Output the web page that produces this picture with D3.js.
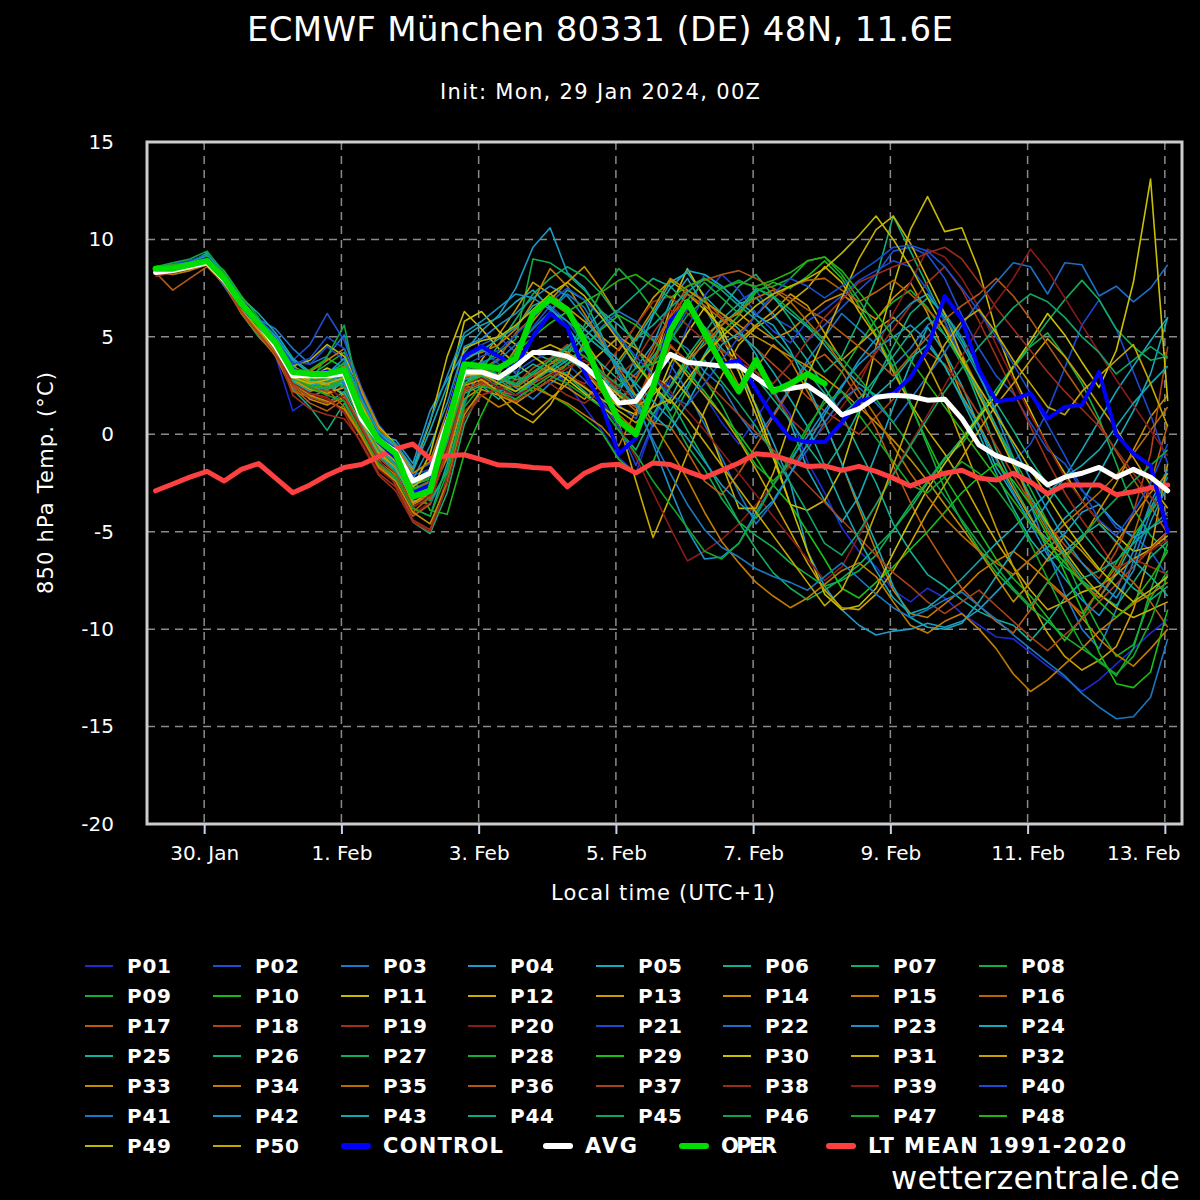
<!DOCTYPE html>
<html>
<head>
<meta charset="utf-8">
<script src="https://cdn.jsdelivr.net/npm/d3@7"></script>
<style>
  html, body { margin: 0; padding: 0; background: #000; }
  svg { display: block; }
  text { font-family: 'DejaVu Sans', sans-serif; fill: #fff; }
</style>
</head>
<body>
<div id="chart"></div>
<script>
// 6-hourly steps, first one 29 Jan 06Z (07 local), 60 steps
const stepCount = 60

const dayLabels = ['30. Jan', '1. Feb', '3. Feb', '5. Feb', '7. Feb', '9. Feb', '11. Feb', '13. Feb']
const yTicks = [15, 10, 5, 0, -5, -10, -15, -20]
const yTickLabels = ['15', '10', '5', '0', '-5', '-10', '-15', '-20']

const ltMean = [
  -2.9, -2.55, -2.2, -1.9, -2.4, -1.8, -1.5, -2.25, -3.0, -2.6,
  -2.1, -1.7, -1.55, -1.15, -0.75, -0.5, -1.25, -1.1, -1.05, -1.3,
  -1.58, -1.6, -1.7, -1.76, -2.7, -2.0, -1.6, -1.54, -1.98, -1.47,
  -1.55, -1.9, -2.22, -1.85, -1.47, -1.0, -1.08, -1.35, -1.65, -1.62,
  -1.85, -1.65, -1.9, -2.25, -2.65, -2.3, -2.0, -1.85, -2.25, -2.35,
  -2.0, -2.45, -3.05, -2.6, -2.6, -2.6, -3.1, -2.95, -2.75, -2.6]

const oper = [
  8.5, 8.5, 8.7, 8.9, 8.0, 6.7, 5.7, 4.7, 3.2, 3.1,
  3.1, 3.3, 1.1, -0.3, -1.0, -3.2, -2.9, 0.4, 3.6, 3.5,
  3.4, 3.9, 6.2, 6.95, 6.4, 4.8, 2.5, 0.7, 0.0, 2.4,
  5.3, 6.8, 5.2, 3.6, 2.2, 3.8, 2.2, 2.6, 3.1, 2.6]

const control = [
  8.4, 8.5, 8.7, 9.0, 8.0, 6.6, 5.6, 4.6, 3.3, 3.1,
  3.2, 3.1, 1.0, -0.4, -1.2, -3.0, -2.6, 0.8, 4.0, 4.5,
  4.0, 3.5, 5.0, 6.2, 5.5, 3.2, 1.5, -1.0, -0.2, 2.3,
  5.8, 6.7, 5.2, 3.6, 3.8, 2.3, 0.9, -0.2, -0.4, -0.4,
  0.6, 1.7, 1.9, 2.1, 2.9, 4.4, 7.1, 5.9, 3.3, 1.7,
  1.8, 2.1, 0.8, 1.4, 1.5, 3.2, 0.0, -1.0, -1.6, -5.0]

const avg = [
  8.3, 8.4, 8.6, 8.8, 7.9, 6.7, 5.7, 4.5, 3.0, 3.0,
  3.0, 3.1, 0.8, -0.3, -0.9, -2.4, -2.0, 0.6, 3.2, 3.2,
  2.9, 3.5, 4.2, 4.2, 4.0, 3.5, 2.7, 1.6, 1.7, 2.9,
  4.1, 3.7, 3.6, 3.5, 3.5, 2.9, 2.3, 2.35, 2.5, 1.9,
  1.0, 1.3, 1.9, 2.0, 1.95, 1.75, 1.8, 0.8, -0.55, -1.1,
  -1.4, -1.8, -2.6, -2.2, -2.0, -1.7, -2.2, -1.8, -2.2, -2.9]

// ensemble members P01..P50
const P01 = [8.3, 8.6, 8.8, 9.0, 8.1, 6.8, 5.4, 4.0, 1.2, 1.8, 2.5, 3.1, 1.4, -0.6, -1.4, -3.0, -2.8, -0.5, 2.6, 3.4, 2.4, 1.8, 2.6, 3.4, 2.6, 1.4, 0.2, -1.2, -2.0, 0.5,
  2.8, 3.5, 2.0, 0.6, -0.5, 0.8, 2.2, 1.0, -1.4, -3.0, -4.8, -6.0, -6.8, -8.0, -8.6, -7.9, -8.4, -9.2, -9.8, -10.4, -10.5, -11.2, -11.9, -12.5, -13.2, -12.6, -11.8, -11.0, -10.2, -9.5]
const P02 = [8.5, 8.7, 8.6, 9.1, 8.0, 6.5, 5.8, 4.9, 3.8, 4.6, 6.2, 4.8, 2.4, 0.5, -0.6, -2.0, -1.5, 1.0, 4.0, 4.6, 5.0, 4.2, 5.5, 6.6, 5.8, 4.6, 3.1, 1.5, 0.8, 2.6,
  4.8, 6.4, 8.2, 7.6, 6.8, 7.4, 6.0, 5.5, 4.8, 5.6, 6.5, 7.4, 8.2, 9.4, 9.6, 9.2, 8.0, 6.1, 4.4, 3.0, 2.1, 0.6, -0.8, -1.5, -2.9, -3.6, -4.8, -5.2, -6.0, -7.3]
const P03 = [8.6, 8.4, 8.7, 8.8, 7.6, 6.3, 5.9, 5.4, 4.4, 3.6, 4.0, 5.1, 1.8, -0.2, -1.0, -3.4, -3.6, -1.8, 1.5, 3.8, 3.0, 2.4, 1.8, 2.6, 3.2, 2.4, 1.6, 2.4, 3.1, 4.0,
  5.0, 4.4, 3.2, 2.5, 1.0, -0.2, 1.0, 2.4, 3.8, 5.0, 6.2, 5.4, 4.6, 3.5, 4.4, 5.6, 6.2, 5.0, 3.2, 1.0, -1.2, -3.6, -6.0, -8.2, -10.0, -11.0, -9.0, -6.5, -4.0, -2.2]
const P04 = [8.4, 8.5, 8.9, 9.2, 8.3, 6.9, 5.8, 4.9, 3.5, 2.9, 3.2, 3.6, 1.2, -0.1, -0.3, -1.5, 1.2, 2.8, 4.2, 5.3, 6.1, 7.5, 9.6, 10.6, 8.3, 7.5, 6.2, 5.0, 3.4, 4.6,
  6.8, 8.0, 6.5, 5.0, 3.2, 1.5, -0.4, -2.5, -6.0, -7.8, -9.0, -9.8, -10.3, -10.1, -10.0, -9.7, -9.9, -9.6, -9.0, -8.1, -7.2, -6.4, -5.8, -5.1, -4.0, -3.6, -4.6, -5.3, -4.8, -4.3]
const P05 = [8.2, 8.4, 8.6, 8.8, 8.2, 7.0, 6.2, 5.2, 3.9, 3.2, 2.4, 2.7, 0.8, -0.8, -1.3, -2.4, -1.8, 0.9, 3.5, 2.8, 2.2, 2.6, 3.0, 3.6, 4.2, 5.4, 6.3, 5.6, 4.8, 6.2,
  7.8, 8.3, 7.1, 6.2, 5.4, 4.1, 2.3, 0.6, -1.8, -3.4, -4.5, -3.2, -1.0, 1.4, 3.6, 5.5, 4.2, 2.5, 0.4, -1.7, -3.1, -4.5, -5.4, -4.3, -3.5, -2.0, -0.4, 1.2, 3.1, 6.0]
const P06 = [8.5, 8.6, 8.8, 9.3, 8.0, 6.4, 5.3, 4.3, 2.6, 2.0, 1.6, 2.2, 0.4, -1.2, -1.9, -3.8, -4.2, -1.5, 2.1, 2.5, 1.8, 2.9, 5.1, 6.3, 7.4, 6.9, 5.1, 3.0, 1.6, 0.4,
  1.8, 3.5, 4.8, 5.9, 6.7, 7.0, 6.2, 5.0, 3.8, 2.4, 1.0, -0.8, -2.5, -4.6, -6.0, -7.2, -7.8, -8.5, -9.1, -9.5, -9.8, -10.6, -9.6, -8.4, -7.6, -8.4, -7.2, -5.5, -3.8, -2.0]
const P07 = [8.6, 8.5, 8.7, 9.0, 7.8, 6.6, 5.5, 4.3, 2.3, 1.4, 0.2, 1.6, 0.1, -1.5, -2.3, -4.5, -5.1, -3.0, 0.5, 2.4, 2.6, 3.4, 4.2, 3.8, 3.0, 2.2, 1.4, 0.2, -0.8, 1.0,
  2.5, 4.0, 5.2, 6.5, 7.6, 8.2, 7.1, 5.9, 4.5, 3.2, 4.0, 5.8, 8.0, 11.2, 9.4, 7.6, 5.8, 3.8, 1.6, -0.8, -2.6, -4.2, -5.9, -6.8, -7.5, -8.2, -8.8, -7.6, -6.3, -5.5]
const P08 = [8.4, 8.3, 8.5, 8.7, 7.9, 6.2, 5.0, 4.1, 2.8, 2.3, 2.5, 2.9, 1.0, -0.5, -1.6, -3.1, -2.9, -0.8, 2.2, 3.6, 4.2, 4.9, 9.0, 8.8, 8.2, 7.4, 6.3, 5.1, 3.8, 2.5,
  1.0, -0.6, -1.8, -3.3, -4.5, -5.2, -5.8, -6.6, -7.2, -7.8, -7.5, -7.0, -6.2, -4.9, -3.6, -2.4, -1.2, -0.5, 0.8, 2.1, 3.4, 4.5, 5.2, 4.0, 2.6, 0.8, -1.5, -3.8, -5.2, -6.0]
const P09 = [8.3, 8.6, 8.6, 8.9, 8.1, 6.7, 5.7, 4.8, 3.4, 3.0, 3.6, 4.2, 2.1, 0.2, -0.9, -2.6, -2.3, 0.0, 2.8, 3.1, 2.6, 2.0, 2.8, 3.6, 4.4, 5.6, 7.4, 8.5, 7.6, 6.4,
  5.3, 4.1, 2.8, 1.5, -0.2, -1.6, -2.4, -1.5, 0.2, 1.8, 3.2, 4.6, 5.9, 6.8, 7.4, 6.5, 5.1, 3.6, 2.0, 0.4, -1.2, -2.8, -4.5, -6.4, -8.3, -10.0, -11.4, -10.8, -8.4, -7.0]
const P10 = [8.5, 8.4, 8.8, 9.1, 8.4, 7.1, 6.0, 4.6, 3.2, 3.3, 3.9, 3.4, 1.6, -0.1, -0.8, -2.2, -3.9, -4.1, -1.0, 1.0, 2.8, 3.0, 2.6, 2.0, 1.5, 0.8, 0.1, -1.3, -2.0, -1.4,
  0.6, 2.3, 4.0, 5.2, 6.1, 7.3, 7.8, 7.5, 8.1, 8.9, 8.0, 6.6, 5.1, 3.4, 1.5, -0.4, -2.2, -3.6, -5.0, -6.4, -7.4, -8.3, -9.4, -10.6, -9.4, -8.0, -6.6, -5.2, -4.0, -2.8]
const P11 = [8.4, 8.3, 8.5, 8.8, 7.9, 6.6, 5.6, 4.7, 3.5, 3.8, 4.6, 4.0, 2.2, 0.4, -0.5, -1.8, 0.6, 4.0, 6.3, 5.4, 4.4, 3.6, 3.0, 3.4, 4.0, 3.2, 2.2, 1.4, 1.0, 3.5,
  6.5, 8.5, 7.0, 5.1, 3.2, 1.0, -1.2, -3.6, -3.9, -3.4, -1.8, 1.0, 4.5, 7.6, 10.5, 12.2, 10.4, 10.6, 8.4, 5.3, 3.0, 1.2, -0.6, -2.0, -3.4, -4.5, -5.2, -6.0, -5.8, -5.0]
const P12 = [8.3, 8.5, 8.6, 9.0, 8.1, 6.5, 5.4, 4.4, 2.9, 2.4, 2.6, 2.0, 0.6, -1.0, -1.7, -3.5, -3.0, -0.6, 3.0, 2.9, 2.0, 1.1, 0.6, 1.5, 3.0, 4.8, 3.5, 0.6, -2.4, -5.3,
  -3.2, -1.0, 1.2, 3.0, 4.6, 5.5, 6.0, 6.8, 7.5, 8.6, 7.8, 6.3, 5.0, 3.2, 1.6, 0.2, -1.0, -2.4, -4.0, -5.5, -6.8, -8.0, -9.0, -8.6, -8.1, -7.8, -7.2, -6.4, -5.9, -5.2]
const P13 = [8.2, 8.4, 8.7, 8.9, 7.7, 6.4, 5.7, 4.9, 3.6, 2.6, 2.0, 2.8, 1.2, -0.3, -1.2, -2.9, -3.3, -1.0, 2.4, 3.8, 5.1, 6.4, 7.8, 7.2, 6.5, 5.8, 5.0, 4.3, 5.6, 7.0,
  7.9, 7.2, 6.4, 5.5, 4.8, 5.6, 6.3, 7.2, 6.6, 5.2, 3.8, 4.6, 5.4, 6.0, 5.2, 3.6, 1.8, -0.4, -2.6, -4.8, -6.8, -8.6, -10.2, -11.4, -12.1, -11.6, -10.9, -9.0, -6.0, -1.5]
const P14 = [8.5, 8.7, 8.9, 9.1, 8.2, 6.8, 5.5, 4.2, 2.5, 1.8, 1.5, 1.9, 0.2, -1.4, -2.1, -3.6, -3.1, -1.2, 1.8, 2.4, 3.1, 4.4, 5.8, 6.9, 7.8, 8.6, 7.4, 6.0, 4.5, 3.0,
  2.4, 3.8, 5.0, 5.8, 6.2, 5.5, 4.9, 5.3, 6.1, 6.8, 7.2, 6.5, 5.9, 7.0, 7.8, 6.2, 4.1, 2.0, 0.5, -1.2, -2.8, -4.3, -5.6, -6.2, -5.4, -3.9, -2.5, -0.8, 0.9, 2.0]
const P15 = [8.3, 8.2, 8.4, 8.7, 7.8, 6.3, 5.2, 4.5, 3.3, 2.7, 3.0, 2.4, 0.9, -0.9, -1.5, -3.3, -2.6, -0.2, 2.6, 2.0, 1.4, 1.8, 2.4, 2.0, 1.6, 1.0, 0.4, -0.6, 1.2, 3.6,
  5.8, 6.5, 5.4, 4.2, 2.5, 3.4, 4.6, 3.8, 2.2, 0.6, -1.5, -3.8, -6.0, -8.0, -9.2, -9.4, -8.7, -8.0, -7.1, -6.5, -6.0, -6.7, -7.5, -8.3, -9.4, -10.5, -11.3, -11.9, -11.0, -10.0]
const P16 = [8.4, 8.6, 8.5, 8.8, 8.0, 6.6, 5.3, 4.0, 2.2, 1.9, 2.3, 1.4, 0.0, -1.6, -2.4, -4.0, -3.2, -0.4, 2.9, 3.3, 3.9, 5.2, 6.0, 6.8, 6.2, 5.4, 4.6, 3.5, 2.9, 4.2,
  6.0, 7.2, 6.6, 5.9, 5.2, 6.1, 7.0, 7.6, 7.9, 8.0, 7.4, 6.8, 7.3, 7.9, 7.2, 6.4, 5.5, 4.1, 2.3, 0.4, -1.5, -3.4, -5.0, -6.3, -7.6, -8.4, -7.0, -5.2, -2.5, 0.5]
const P17 = [8.3, 7.4, 8.0, 8.6, 7.7, 6.2, 5.1, 4.0, 2.4, 1.6, 1.2, 1.8, 0.3, -1.3, -2.6, -4.2, -3.6, -0.7, 2.2, 2.6, 2.2, 2.0, 2.6, 3.1, 3.6, 4.0, 3.2, 2.0, 1.2, 0.6,
  0.4, -0.9, -2.4, -3.1, -2.0, -0.6, 0.9, 2.3, 3.6, 4.1, 3.2, 1.8, 0.3, -1.6, -3.5, -5.2, -6.6, -7.9, -8.8, -9.6, -10.2, -9.0, -7.6, -8.4, -9.2, -8.0, -6.8, -7.6, -8.6, -9.9]
const P18 = [8.6, 8.6, 8.9, 9.0, 8.2, 6.9, 5.8, 4.6, 3.1, 2.4, 2.0, 2.5, 0.8, -0.8, -1.4, -2.9, -2.5, 0.3, 3.1, 3.4, 2.8, 2.6, 3.4, 3.9, 4.6, 4.0, 3.2, 2.1, 1.6, 3.6,
  5.6, 7.4, 6.9, 6.0, 5.1, 4.4, 3.6, 2.8, 1.9, 1.2, 0.6, 0.0, 0.9, 1.8, 3.0, 4.2, 3.6, 2.4, 1.0, -0.6, -2.1, -3.5, -4.6, -5.7, -6.6, -7.4, -6.0, -4.0, -1.0, 4.5]
const P19 = [8.1, 8.3, 8.6, 8.8, 7.8, 6.5, 5.6, 4.4, 2.0, 1.3, 1.0, 0.8, -0.4, -2.0, -2.7, -4.4, -4.9, -2.2, 1.2, 2.0, 2.4, 2.8, 3.0, 3.4, 3.0, 2.6, 3.2, 4.4, 5.6, 6.8,
  7.1, 6.2, 5.5, 4.8, 4.0, 3.2, 2.1, 0.8, 0.0, 0.6, 1.8, 3.0, 4.2, 5.4, 6.6, 7.8, 8.6, 7.4, 5.8, 4.0, 2.2, 0.4, -1.4, -3.0, -4.4, -5.6, -6.9, -6.4, -6.8, -7.2]
const P20 = [8.4, 8.5, 8.7, 9.0, 7.9, 6.4, 5.3, 4.2, 2.7, 2.1, 1.8, 1.2, -0.2, -1.8, -2.5, -4.1, -3.5, -0.9, 2.4, 3.0, 2.6, 2.2, 2.8, 3.4, 3.0, 2.5, 1.6, 0.4, -1.2, -3.0,
  -4.8, -6.5, -6.0, -5.4, -4.6, -3.6, -2.6, -1.6, -0.6, 0.4, 1.4, 2.6, 4.4, 6.2, 7.8, 9.5, 9.1, 8.0, 6.5, 4.6, 2.8, 1.0, -0.6, -2.2, -3.4, -4.5, -5.6, -6.5, -6.0, -5.4]
const P21 = [8.5, 8.8, 8.9, 9.2, 8.3, 6.9, 5.9, 5.1, 3.7, 3.6, 4.5, 3.8, 1.9, 0.1, -0.7, -2.1, -1.8, 0.8, 3.8, 4.4, 3.6, 3.2, 3.8, 4.2, 3.6, 2.8, 1.8, 0.4, -1.6, 0.6,
  3.2, 5.5, 7.1, 8.2, 7.4, 6.2, 5.3, 4.7, 5.8, 6.4, 7.1, 7.9, 8.4, 8.9, 8.6, 7.4, 5.8, 3.9, 2.0, 0.3, -1.4, -0.5, 1.2, 3.4, 5.6, 6.9, 5.4, 3.2, 1.0, -1.5]
const P22 = [8.3, 8.5, 8.6, 8.9, 7.9, 6.5, 5.6, 4.6, 3.2, 2.9, 3.3, 2.8, 1.0, -0.6, -1.3, -2.8, -2.4, 0.2, 3.0, 3.7, 4.0, 3.1, 2.2, 2.8, 3.6, 4.4, 5.5, 6.3, 5.8, 4.9,
  3.6, 2.2, 0.5, -1.2, -3.0, -4.6, -3.5, -2.0, -0.8, 0.6, 1.8, 2.4, 1.6, 0.6, 1.8, 3.0, 4.2, 5.6, 6.8, 7.8, 8.8, 8.6, 7.2, 8.8, 8.7, 7.1, 7.6, 6.8, 7.5, 8.7]
const P23 = [8.4, 8.6, 8.8, 9.1, 8.0, 6.7, 5.6, 4.5, 3.0, 2.6, 2.8, 3.3, 1.5, -0.2, -0.8, -2.3, -0.6, 1.6, 4.5, 4.9, 5.6, 6.2, 7.0, 7.6, 7.1, 6.0, 4.7, 3.2, 1.8, -0.5,
  -2.8, -4.9, -6.4, -6.3, -5.6, -4.0, -2.6, -1.3, -0.1, 1.2, 2.5, 3.6, 4.4, 5.0, 5.6, 4.8, 3.5, 1.9, 0.4, -1.3, -3.0, -4.6, -6.2, -7.4, -8.5, -9.3, -8.0, -6.0, -3.5, -1.8]
const P24 = [8.5, 8.4, 8.6, 8.9, 8.1, 6.8, 5.9, 5.0, 3.8, 3.1, 2.9, 3.5, 1.7, 0.0, -0.6, -1.9, 0.2, 2.5, 5.0, 5.6, 6.0, 6.8, 7.4, 6.5, 5.5, 4.3, 3.0, 2.1, 4.0, 6.1,
  7.5, 8.4, 8.2, 7.6, 6.8, 6.1, 5.6, 4.3, 2.5, 0.6, -1.5, -3.6, -5.6, -7.8, -9.4, -9.9, -10.0, -9.7, -8.6, -7.3, -6.0, -4.8, -3.5, -2.2, -0.8, 0.7, 2.2, 3.5, 4.8, 6.0]
const P25 = [8.6, 8.7, 8.8, 9.0, 8.0, 6.6, 5.4, 4.3, 2.7, 2.2, 2.5, 2.1, 0.5, -1.1, -1.8, -3.3, -2.9, -0.4, 2.6, 3.2, 2.6, 3.0, 3.6, 3.2, 3.8, 4.4, 3.6, 2.8, 2.0, 2.6,
  1.2, 2.5, 4.1, 5.6, 6.4, 7.5, 7.0, 6.2, 5.5, 4.6, 3.5, 2.6, 2.0, 2.8, 3.9, 4.6, 3.5, 1.8, 0.0, -2.0, -3.8, -5.4, -6.5, -6.0, -5.2, -4.6, -5.5, -6.5, -7.3, -8.3]
const P26 = [8.4, 8.5, 8.6, 8.9, 8.0, 6.7, 5.8, 4.7, 3.3, 2.8, 2.3, 2.6, 1.3, -0.4, -1.0, -2.7, -2.0, 0.6, 3.4, 3.0, 2.4, 2.0, 2.7, 3.3, 4.1, 5.0, 5.8, 6.4, 7.2, 8.0,
  7.6, 6.7, 5.5, 4.4, 3.6, 2.9, 1.8, 0.7, -0.6, -1.8, -0.5, 1.2, 2.8, 4.5, 6.2, 7.0, 6.2, 4.8, 3.2, 1.6, 0.2, -1.3, -2.6, -3.8, -5.0, -6.1, -7.0, -7.9, -8.5, -7.8]
const P27 = [8.3, 8.5, 8.7, 9.0, 8.1, 6.5, 5.6, 4.8, 3.5, 3.0, 2.6, 3.0, 1.1, -0.5, -1.4, -3.0, -3.4, -1.9, 1.7, 3.3, 4.6, 5.9, 7.2, 8.0, 8.6, 8.1, 7.2, 6.0, 4.5, 3.0,
  1.8, 0.2, -1.3, -2.9, -4.5, -5.9, -7.1, -7.9, -8.5, -8.0, -7.4, -6.7, -5.8, -4.9, -3.8, -2.5, -1.3, -0.2, 1.0, 2.3, 3.5, 4.6, 5.8, 6.9, 7.9, 6.9, 5.4, 4.5, 3.8, 4.0]
const P28 = [8.5, 8.6, 8.8, 9.1, 8.2, 6.8, 5.7, 4.6, 3.1, 2.7, 2.9, 3.7, 1.8, 0.0, -0.9, -2.5, -2.1, 0.4, 3.3, 3.6, 3.2, 2.8, 3.0, 3.6, 4.0, 3.4, 2.6, 1.8, 2.6, 3.9,
  5.5, 6.9, 7.8, 7.0, 6.2, 7.4, 7.6, 8.0, 8.9, 9.1, 8.2, 6.9, 5.5, 3.8, 1.6, -0.6, -2.8, -4.5, -5.9, -7.1, -8.0, -8.9, -9.6, -10.4, -11.0, -11.6, -12.4, -11.0, -8.0, -5.6]
const P29 = [8.4, 8.3, 8.5, 8.8, 7.9, 6.6, 5.5, 4.4, 2.9, 2.5, 2.8, 3.4, 1.4, -0.3, -1.1, -2.8, -2.5, 0.1, 3.1, 3.4, 3.0, 2.5, 2.2, 2.8, 3.6, 4.5, 5.4, 6.1, 5.6, 4.8,
  4.0, 3.2, 2.2, 1.0, 0.0, -1.2, -2.6, -3.6, -5.0, -6.4, -7.9, -8.4, -7.6, -6.8, -5.9, -5.0, -4.0, -3.0, -2.2, -1.5, -2.4, -3.6, -5.2, -7.1, -9.0, -11.2, -12.8, -13.0, -12.2, -9.0]
const P30 = [8.3, 8.4, 8.5, 8.8, 7.9, 6.6, 5.6, 4.5, 3.0, 2.9, 3.4, 3.0, 1.3, -0.5, -1.2, -2.7, -1.0, 2.2, 5.8, 6.3, 5.3, 4.6, 4.0, 3.4, 2.8, 2.1, 1.4, 0.8, 0.2, 1.5,
  3.6, 5.2, 6.5, 5.4, 3.6, 1.4, -1.0, -3.6, -6.0, -8.2, -9.0, -8.8, -7.9, -6.1, -4.4, -2.8, -1.5, -0.3, 0.9, 2.0, 3.5, 4.8, 6.2, 5.1, 3.7, 2.4, 4.3, 7.8, 13.1, 1.7]
const P31 = [8.5, 8.6, 8.7, 9.0, 8.1, 6.7, 5.7, 4.6, 3.2, 2.8, 3.1, 2.6, 1.0, -0.7, -1.5, -3.1, -2.6, -0.1, 2.9, 3.3, 3.0, 3.6, 4.2, 4.6, 4.2, 3.6, 2.8, 2.0, 1.4, 2.0,
  3.0, 2.0, 0.8, -1.5, -3.8, -3.8, -2.0, 0.6, 3.0, 5.0, 7.0, 9.0, 10.5, 11.2, 9.8, 8.0, 6.2, 4.0, 2.0, 0.2, -1.6, -3.2, -4.6, -6.0, -7.2, -8.2, -8.9, -9.4, -9.0, -8.6]
const P32 = [8.4, 8.7, 8.8, 9.0, 8.0, 6.5, 5.4, 4.3, 2.8, 2.3, 2.1, 2.4, 0.7, -0.9, -1.7, -3.2, -2.8, -0.5, 2.5, 2.8, 2.2, 1.6, 1.0, 1.8, 2.6, 3.4, 4.2, 5.0, 4.4, 3.6,
  4.1, 3.0, 2.0, 1.0, -0.3, -1.8, -3.4, -5.0, -6.6, -8.0, -8.9, -9.0, -8.2, -7.0, -5.6, -4.0, -2.6, -1.2, 0.2, 1.5, 2.6, 3.8, 4.9, 4.0, 2.8, 1.5, 0.3, -1.2, -2.6, -3.8]
const P33 = [8.3, 8.5, 8.6, 8.8, 7.8, 6.4, 5.3, 4.2, 2.6, 2.0, 1.7, 1.3, -0.1, -1.7, -2.4, -4.0, -4.6, -2.5, 1.0, 2.3, 2.0, 1.6, 2.2, 2.8, 2.4, 1.8, 2.6, 3.8, 5.0, 6.4,
  8.0, 7.4, 6.8, 6.2, 5.6, 5.0, 4.5, 4.0, 3.5, 2.9, 2.2, 1.4, 0.6, -0.3, -1.3, -2.4, -3.6, -4.8, -6.0, -7.3, -8.6, -7.6, -6.4, -5.2, -6.0, -7.0, -5.6, -4.2, -3.0, -2.0]
const P34 = [8.5, 8.6, 8.8, 9.1, 8.2, 6.9, 5.7, 4.8, 3.4, 3.2, 3.8, 4.4, 2.3, 0.3, -0.6, -2.0, -1.4, 1.2, 4.0, 4.2, 4.6, 5.4, 6.8, 8.5, 7.6, 6.2, 4.8, 3.4, 2.0, 0.6,
  -0.8, -2.3, -4.0, -5.5, -6.6, -7.6, -8.3, -8.9, -8.4, -7.7, -7.0, -6.6, -7.3, -8.6, -9.8, -10.2, -9.6, -9.2, -10.0, -11.0, -12.3, -13.2, -12.6, -11.8, -11.0, -10.1, -9.4, -8.7, -8.2, -7.6]
const P35 = [8.4, 8.5, 8.7, 8.9, 8.0, 6.6, 5.6, 4.5, 3.0, 2.6, 2.9, 3.5, 1.6, -0.2, -1.0, -2.6, -2.2, 0.4, 3.2, 3.5, 2.9, 2.4, 3.0, 3.6, 4.2, 3.4, 2.2, 1.0, 0.2, 2.4,
  4.5, 3.8, 4.6, 5.6, 6.3, 7.0, 7.4, 6.8, 5.8, 4.8, 3.6, 2.2, 0.9, -0.6, -2.0, -3.2, -4.3, -5.2, -6.0, -6.6, -7.2, -6.4, -5.5, -4.6, -3.8, -3.0, -2.1, -1.0, 0.2, 1.4]
const P36 = [8.6, 8.7, 8.8, 9.1, 8.1, 6.7, 5.5, 4.4, 2.9, 2.4, 2.2, 2.9, 1.2, -0.4, -1.3, -2.9, -2.4, 0.0, 2.9, 3.2, 2.6, 2.2, 2.8, 3.4, 4.0, 3.2, 2.4, 1.5, 2.8, 4.5,
  6.1, 7.6, 7.9, 8.2, 8.4, 8.0, 7.5, 7.0, 6.4, 5.9, 5.2, 4.5, 3.8, 3.0, 4.0, 5.0, 5.9, 6.6, 7.2, 8.0, 7.1, 5.9, 4.6, 3.3, 2.0, 0.6, -0.9, -2.3, -3.7, -5.1]
const P37 = [8.2, 8.3, 8.5, 8.7, 7.7, 6.3, 5.2, 4.1, 2.5, 1.9, 1.6, 2.0, 0.4, -1.2, -2.0, -3.7, -3.3, -0.9, 2.3, 2.7, 2.1, 1.7, 2.2, 2.8, 3.4, 4.0, 3.2, 2.2, 1.4, 2.5,
  4.6, 3.7, 2.8, 1.9, 1.0, 0.1, -0.8, -1.7, -2.6, -3.5, -4.4, -5.3, -6.2, -7.1, -7.8, -8.6, -9.2, -8.6, -8.0, -8.8, -9.6, -10.4, -11.1, -10.3, -9.5, -8.6, -7.7, -6.8, -5.9, -5.0]
const P38 = [8.4, 8.5, 8.8, 9.0, 8.0, 6.5, 5.5, 4.3, 2.6, 2.1, 1.9, 1.1, -0.5, -2.1, -2.9, -4.5, -5.0, -2.6, 0.8, 2.0, 2.3, 2.6, 3.0, 2.6, 2.0, 1.6, 2.2, 3.0, 3.8, 5.2,
  6.4, 5.6, 4.8, 4.3, 3.7, 3.2, 2.6, 3.6, 4.8, 6.0, 6.9, 7.8, 8.2, 8.6, 8.9, 9.3, 9.6, 9.0, 7.8, 6.5, 5.4, 4.3, 3.2, 2.2, 1.3, 0.4, -0.8, -2.0, -3.2, -4.2]
const P39 = [8.5, 8.6, 8.7, 9.0, 8.1, 6.7, 5.6, 4.5, 3.0, 2.5, 2.4, 1.8, 0.2, -1.4, -2.2, -3.8, -3.1, -0.6, 2.6, 2.9, 2.4, 2.0, 2.4, 3.0, 3.4, 3.8, 3.2, 2.4, 1.8, 3.1,
  2.2, 1.2, 0.2, -0.9, -2.0, -3.1, -4.2, -5.3, -6.4, -7.5, -6.8, -5.2, -3.6, -2.0, -0.5, 1.0, 2.5, 4.0, 5.5, 6.8, 8.0, 9.5, 8.4, 7.0, 5.6, 4.2, 2.8, 1.5, 0.2, -1.1]
const P40 = [8.4, 8.7, 8.9, 9.1, 8.2, 6.8, 5.9, 4.9, 3.6, 3.9, 5.0, 4.4, 2.0, 0.0, -0.8, -2.4, -2.0, 0.5, 3.5, 4.0, 4.3, 5.1, 6.0, 6.8, 7.5, 6.9, 6.0, 5.0, 4.0, 3.0,
  2.0, 1.5, 2.6, 3.8, 5.0, 6.1, 7.2, 8.0, 7.6, 7.0, 7.6, 8.3, 8.9, 9.6, 9.7, 9.4, 8.6, 7.5, 6.3, 5.0, 3.6, 2.1, 0.5, -1.1, -2.8, -4.4, -5.2, -4.0, -2.5, -0.5]
const P41 = [8.3, 8.5, 8.7, 8.9, 8.0, 6.6, 5.7, 4.7, 3.3, 3.0, 3.2, 2.6, 1.0, -0.6, -1.5, -3.0, -2.6, 0.0, 3.0, 3.3, 3.8, 4.6, 5.4, 6.3, 7.2, 6.5, 5.0, 3.2, 1.5, -0.3,
  -2.0, -3.6, -4.9, -5.8, -6.3, -6.9, -7.3, -7.6, -8.0, -7.3, -6.6, -7.4, -8.2, -8.9, -9.4, -9.0, -8.5, -8.1, -8.8, -9.5, -10.3, -11.0, -11.7, -12.4, -13.3, -14.0, -14.6, -14.5, -13.5, -10.5]
const P42 = [8.5, 8.6, 8.8, 9.2, 8.3, 6.9, 5.8, 4.8, 3.4, 2.9, 3.1, 3.9, 1.8, 0.1, -0.5, -1.7, 0.7, 3.0, 5.2, 5.8, 6.5, 7.2, 7.0, 6.4, 5.8, 5.1, 4.4, 3.5, 2.6, 1.7,
  0.8, -0.2, -1.4, -2.6, -3.5, -4.3, -3.4, -2.0, -0.5, 1.0, 2.4, 3.8, 4.9, 5.8, 6.7, 7.2, 6.0, 4.6, 3.0, 1.2, -0.6, -2.3, -3.9, -5.4, -6.6, -7.6, -8.4, -7.0, -4.5, -2.6]
const P43 = [8.4, 8.5, 8.6, 8.8, 7.9, 6.5, 5.5, 4.4, 2.9, 2.5, 2.7, 3.1, 1.2, -0.4, -1.0, -2.6, -2.0, 0.8, 3.8, 4.3, 4.9, 5.5, 6.6, 7.0, 6.2, 5.4, 4.6, 3.8, 2.4, 1.0,
  0.2, 1.6, 3.2, 4.6, 5.2, 4.4, 3.2, 1.8, 0.4, -1.6, -3.6, -5.4, -7.0, -8.4, -9.2, -8.9, -8.2, -7.4, -6.5, -5.6, -4.8, -3.9, -3.0, -2.2, -1.6, -0.8, 0.4, 1.6, 2.6, 3.5]
const P44 = [8.5, 8.6, 8.7, 9.0, 8.1, 6.6, 5.6, 4.5, 3.0, 2.5, 2.3, 2.8, 1.1, -0.5, -1.3, -3.0, -2.6, -0.2, 2.8, 3.1, 2.9, 2.5, 3.1, 3.8, 4.5, 5.1, 4.4, 3.6, 4.9, 5.6,
  6.5, 7.3, 8.0, 7.4, 6.6, 5.9, 5.0, 4.1, 3.2, 2.1, 1.0, 1.8, 2.9, 4.0, 5.2, 6.0, 5.1, 3.8, 2.2, 0.4, -1.4, -3.2, -4.8, -6.2, -7.4, -7.0, -6.5, -5.6, -4.8, -4.0]
const P45 = [8.3, 8.4, 8.6, 8.9, 8.0, 6.6, 5.5, 4.4, 2.8, 2.6, 2.9, 2.4, 0.8, -0.8, -1.6, -3.2, -2.7, -0.4, 2.6, 3.0, 2.8, 2.2, 2.8, 3.4, 3.9, 3.3, 2.8, 2.2, 1.6, 1.0,
  2.4, 3.6, 3.8, 2.7, 1.6, 0.4, -1.0, -2.5, -4.0, -5.6, -6.2, -5.0, -3.6, -2.1, -0.6, 0.8, 2.2, 3.4, 4.5, 5.5, 6.5, 7.2, 6.8, 6.0, 5.0, 4.2, 3.1, 3.8, 4.5, 3.9]
const P46 = [8.6, 8.8, 9.0, 9.4, 8.3, 6.8, 5.8, 4.7, 3.2, 2.7, 4.0, 5.6, 1.3, -0.3, -1.1, -2.6, -2.2, 0.3, 3.2, 3.5, 3.0, 2.6, 3.2, 3.8, 4.4, 4.0, 3.2, 2.5, 3.4, 3.6,
  4.8, 6.1, 6.9, 7.5, 7.9, 7.5, 7.1, 6.4, 5.6, 4.8, 3.9, 2.9, 1.8, 0.6, -0.6, -1.9, -3.2, -4.4, -5.6, -6.8, -7.9, -8.8, -7.6, -6.4, -5.3, -4.2, -3.3, -2.4, -1.6, -0.8]
const P47 = [8.4, 8.5, 8.7, 9.0, 8.0, 6.6, 5.6, 4.5, 3.0, 2.4, 2.0, 1.7, 0.1, -1.5, -2.2, -3.8, -4.2, -2.0, 1.4, 2.5, 2.2, 1.8, 2.4, 3.0, 2.6, 2.0, 1.4, 0.2, -1.0, -2.4,
  -3.6, -4.8, -6.0, -6.4, -5.6, -4.2, -2.6, -1.2, 0.4, 1.6, 2.2, 1.0, -0.2, -1.4, -2.6, -3.0, -2.2, -1.4, -2.0, -2.8, -4.0, -5.6, -7.4, -9.2, -10.8, -11.7, -12.3, -11.4, -9.6, -7.2]
const P48 = [8.5, 8.7, 8.8, 9.1, 8.2, 6.8, 5.7, 4.6, 3.0, 2.5, 2.4, 2.9, 1.3, -0.4, -1.2, -2.8, -2.6, -0.2, 2.6, 3.0, 3.4, 4.2, 5.0, 5.7, 6.3, 6.8, 7.3, 7.9, 8.2, 7.6,
  7.0, 7.6, 8.0, 7.5, 7.8, 7.6, 7.9, 8.3, 8.9, 9.1, 8.4, 7.3, 6.2, 5.0, 3.8, 2.6, 1.4, 0.2, -1.0, -2.2, -3.4, -4.6, -5.6, -6.6, -7.6, -8.6, -9.4, -8.6, -7.4, -6.0]
const P49 = [8.4, 8.6, 8.7, 9.0, 8.0, 6.5, 5.4, 4.4, 2.9, 2.6, 2.8, 3.2, 1.5, -0.2, -1.1, -2.7, -2.0, 1.0, 4.4, 4.8, 5.0, 5.6, 6.4, 7.2, 7.8, 7.1, 6.0, 4.8, 3.6, 2.5,
  1.6, 2.8, 4.0, 5.0, 5.8, 6.6, 7.2, 7.6, 8.0, 8.5, 9.3, 10.2, 11.2, 10.0, 8.6, 7.0, 5.4, 3.8, 2.4, 1.0, -0.4, -1.8, -3.2, -4.6, -5.8, -6.9, -7.8, -8.6, -8.0, -7.3]
const P50 = [8.3, 8.5, 8.6, 8.9, 7.9, 6.5, 5.5, 4.5, 3.1, 2.7, 2.6, 2.9, 1.0, -0.6, -1.4, -3.0, -2.6, -0.1, 3.0, 3.1, 2.6, 2.2, 2.8, 3.4, 3.0, 2.4, 1.8, 1.2, 0.6, 1.4,
  1.8, 0.8, -0.4, -1.6, -2.8, -4.0, -5.2, -6.4, -7.6, -8.8, -8.0, -6.2, -4.0, -1.6, 0.8, 3.0, 4.6, 5.8, 6.4, 5.2, 3.8, 2.6, 1.4, 1.0, 2.2, 3.0, 3.8, 4.6, 2.6, 0.4]

const memberValues = [P01, P02, P03, P04, P05, P06, P07, P08, P09, P10,
  P11, P12, P13, P14, P15, P16, P17, P18, P19, P20,
  P21, P22, P23, P24, P25, P26, P27, P28, P29, P30,
  P31, P32, P33, P34, P35, P36, P37, P38, P39, P40,
  P41, P42, P43, P44, P45, P46, P47, P48, P49, P50]

const memberColors = [
  '#1f2ad0', '#1f4fd0', '#1e78c8', '#1d9ac8', '#15aab8', '#12ae96', '#10ae74', '#10ae50', '#12b032', '#18b818',
  '#c8b800', '#c8aa00', '#c89c00', '#c88c00', '#c47800', '#b86400', '#bc5a14', '#b04418', '#a02e18', '#8c1a1a',
  '#1e48d0', '#1c6ec8', '#1890c8', '#14a8b8', '#12b0a2', '#10ae82', '#10ae5c', '#14b036', '#18c018', '#c8c000',
  '#c8ae00', '#c89e00', '#c08c00', '#c07c00', '#b86c00', '#b05814', '#a8421a', '#9a2c1c', '#881a1a', '#1a4ed0',
  '#1a78c0', '#1696c0', '#12a8b0', '#10a68a', '#10a468', '#10a448', '#12a62a', '#28b010', '#c0b800', '#c0a800']

memberValues.forEach((s, i) => {
  if (s.length !== stepCount) throw new Error('member ' + (i + 1) + ' has ' + s.length)
})

const W = 1200
const H = 1200
const margin = { top: 142, right: 18, bottom: 376, left: 147 }
const width = W - margin.left - margin.right
const height = H - margin.top - margin.bottom

const times = d3.range(stepCount).map(i => new Date(Date.UTC(2024, 0, 29, 7) + i * 6 * 3600e3))
const dayTicks = d3.range(dayLabels.length).map(i => new Date(Date.UTC(2024, 0, 30 + 2 * i)))

const svg = d3.select('#chart').append('svg')
  .attr('width', W)
  .attr('height', H)
  .style('background', '#000')

svg.append('rect').attr('width', W).attr('height', H).attr('fill', '#000')

const xPositionScale = d3.scaleUtc()
  .domain([new Date(Date.UTC(2024, 0, 29, 4)), new Date(Date.UTC(2024, 1, 13, 6))])
  .range([0, width])
const yPositionScale = d3.scaleLinear().domain([-20, 15]).range([height, 0])

// titles (widths stretched a bit, the original font runs wider than DejaVu)
svg.append('text')
  .attr('x', 600).attr('y', 41)
  .attr('text-anchor', 'middle')
  .attr('font-size', 34)
  .attr('textLength', 706).attr('lengthAdjust', 'spacing')
  .text('ECMWF München 80331 (DE) 48N, 11.6E')

svg.append('text')
  .attr('x', 600).attr('y', 99)
  .attr('text-anchor', 'middle')
  .attr('font-size', 21)
  .attr('textLength', 320).attr('lengthAdjust', 'spacing')
  .text('Init: Mon, 29 Jan 2024, 00Z')

svg.append('text')
  .attr('transform', 'translate(53,483) rotate(-90)')
  .attr('text-anchor', 'middle')
  .attr('font-size', 21)
  .attr('textLength', 222).attr('lengthAdjust', 'spacing')
  .text('850 hPa Temp. (°C)')

svg.append('text')
  .attr('x', 663).attr('y', 900)
  .attr('text-anchor', 'middle')
  .attr('font-size', 21)
  .attr('textLength', 224).attr('lengthAdjust', 'spacing')
  .text('Local time (UTC+1)')

const plot = svg.append('g').attr('transform', `translate(${margin.left},${margin.top})`)

// grid
plot.append('g')
  .selectAll('line')
  .data(yTicks.filter(d => d > -20 && d < 15))
  .enter().append('line')
  .attr('x1', 0).attr('x2', width)
  .attr('y1', d => yPositionScale(d)).attr('y2', d => yPositionScale(d))
  .attr('stroke', '#8a8a8a').attr('stroke-width', 1.5)
  .attr('stroke-dasharray', '8,6')

plot.append('g')
  .selectAll('line')
  .data(dayTicks)
  .enter().append('line')
  .attr('x1', d => xPositionScale(d)).attr('x2', d => xPositionScale(d))
  .attr('y1', 0).attr('y2', height)
  .attr('stroke', '#8a8a8a').attr('stroke-width', 1.5)
  .attr('stroke-dasharray', '8,6')

// axes
const xAxis = d3.axisBottom(xPositionScale)
  .tickValues(dayTicks)
  .tickFormat((d, i) => dayLabels[i])
  .tickSize(10)
  .tickPadding(12)

const xg = plot.append('g')
  .attr('class', 'axis x-axis')
  .attr('transform', 'translate(0,' + height + ')')
  .call(xAxis)
xg.select('.domain').remove()
xg.selectAll('.tick line').attr('stroke', '#c4d4e6').attr('stroke-width', 2)
xg.selectAll('.tick text').attr('fill', '#fff').attr('font-size', 20).attr('font-family', 'DejaVu Sans')

// the last label is pulled inside the frame, as in the original
const lastTick = dayTicks[dayTicks.length - 1]
xg.selectAll('.tick text')
  .filter(d => +d === +lastTick)
  .attr('text-anchor', 'end')
  .attr('x', width - 2 - xPositionScale(lastTick))

const yAxis = d3.axisLeft(yPositionScale)
  .tickValues(yTicks)
  .tickFormat((d, i) => yTickLabels[i])
  .tickSize(0)
  .tickPadding(33)

const yg = plot.append('g')
  .attr('class', 'axis y-axis')
  .call(yAxis)
yg.select('.domain').remove()
yg.selectAll('.tick text').attr('fill', '#fff').attr('font-size', 20).attr('font-family', 'DejaVu Sans')

// lines
svg.append('defs').append('clipPath').attr('id', 'clip')
  .append('rect').attr('width', width).attr('height', height)

const lines = plot.append('g').attr('clip-path', 'url(#clip)')

const line = d3.line()
  .x((d, i) => xPositionScale(times[i]))
  .y(d => yPositionScale(d))

lines.selectAll('.member')
  .data(memberValues)
  .enter().append('path')
  .attr('class', 'member')
  .attr('d', d => line(d))
  .attr('fill', 'none')
  .attr('stroke', (d, i) => memberColors[i])
  .attr('stroke-width', 1.6)
  .attr('stroke-linejoin', 'round')

const specials = [
  { values: ltMean, color: '#ff4040', w: 5 },
  { values: control, color: '#0000ff', w: 4 },
  { values: avg, color: '#ffffff', w: 5 },
  { values: oper, color: '#00dd00', w: 6 }
]

specials.forEach(s => {
  lines.append('path')
    .attr('d', line(s.values))
    .attr('fill', 'none')
    .attr('stroke', s.color)
    .attr('stroke-width', s.w)
    .attr('stroke-linejoin', 'round')
    .attr('stroke-linecap', 'round')
})

// frame
plot.append('rect')
  .attr('width', width).attr('height', height)
  .attr('fill', 'none')
  .attr('stroke', '#cccccc')
  .attr('stroke-width', 3)

// legend
const legendItems = memberValues.map((d, i) => ({
  name: 'P' + String(i + 1).padStart(2, '0'), color: memberColors[i], w: 2, thick: false, len: 44
}))
legendItems.push({ name: 'CONTROL', color: '#0000ff', w: 6, thick: true, len: 120 })
legendItems.push({ name: 'AVG', color: '#ffffff', w: 6, thick: true, len: 52 })
legendItems.push({ name: 'OPER', color: '#00dd00', w: 6, thick: true, len: 56 })
legendItems.push({ name: 'LT MEAN 1991-2020', color: '#ff4040', w: 6, thick: true, len: 258 })

const colX = [85, 213, 341, 468, 596, 723, 851, 979]
const lastRowX = [85, 213, 341, 543, 679, 826]

const legend = svg.append('g')
legendItems.forEach((item, i) => {
  const row = Math.floor(i / 8)
  const col = i % 8
  const x0 = row === 6 ? lastRowX[col] : colX[col]
  const y0 = 966 + row * 30
  legend.append('line')
    .attr('x1', item.thick ? x0 + 3 : x0).attr('x2', item.thick ? x0 + 27 : x0 + 28)
    .attr('y1', y0).attr('y2', y0)
    .attr('stroke', item.color)
    .attr('stroke-width', item.w)
    .attr('stroke-linecap', item.thick ? 'round' : 'butt')
  legend.append('text')
    .attr('x', x0 + 42).attr('y', y0 + 7)
    .attr('font-size', item.thick ? 21 : 20)
    .attr('font-weight', 'bold')
    .attr('textLength', item.len).attr('lengthAdjust', 'spacing')
    .text(item.name)
})

svg.append('text')
  .attr('x', 1180).attr('y', 1189)
  .attr('text-anchor', 'end')
  .attr('font-size', 32)
  .attr('textLength', 289).attr('lengthAdjust', 'spacing')
  .text('wetterzentrale.de')
</script>
</body>
</html>
